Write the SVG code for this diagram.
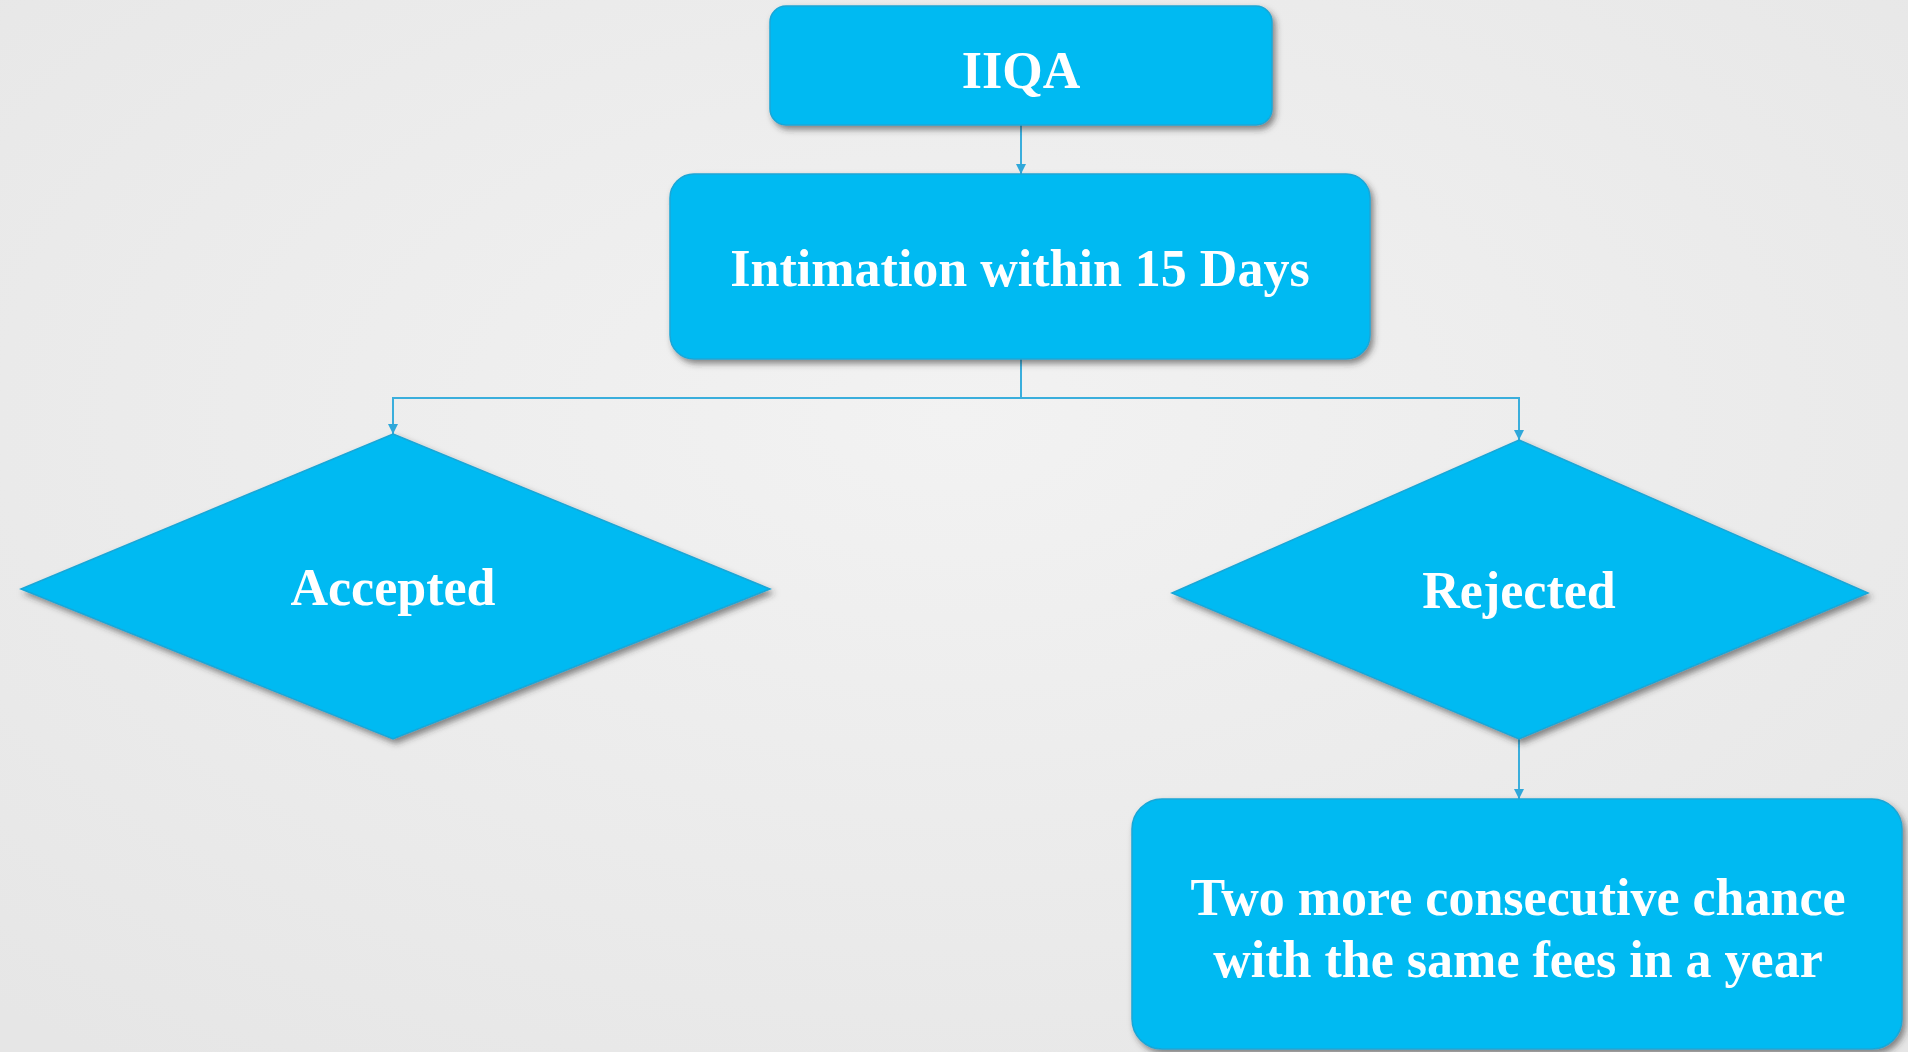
<svg xmlns="http://www.w3.org/2000/svg" width="1908" height="1052" viewBox="0 0 1908 1052">
<defs>
<filter id="sh" x="-10%" y="-10%" width="125%" height="130%">
<feDropShadow dx="3" dy="4" stdDeviation="3" flood-color="#333" flood-opacity="0.55"/>
</filter>
<marker id="ar" viewBox="0 0 10 10" refX="10" refY="5" markerWidth="10" markerHeight="10" markerUnits="userSpaceOnUse" orient="auto">
<path d="M0,0 L10,5 L0,10 z" fill="#2FA8DA"/>
</marker>
<radialGradient id="bg" cx="50%" cy="40%" r="75%">
<stop offset="0" stop-color="#F2F2F2"/>
<stop offset="1" stop-color="#E6E6E6"/>
</radialGradient>
</defs>
<style>
.node{fill:#00BAF2;stroke:#1AA6D6;stroke-width:1.5;filter:url(#sh)}
.lbl{font-family:"Liberation Serif","Times New Roman",serif;font-weight:bold;font-size:52px;fill:#FFFFFF;text-anchor:middle}
.con{fill:none;stroke:#3AAEDC;stroke-width:2}
</style>
<rect x="0" y="0" width="1908" height="1052" fill="url(#bg)"/>
<g id="connectors">
<path class="con" d="M1021,125 L1021,174" marker-end="url(#ar)"/>
<path class="con" d="M1021,359 L1021,398 L393,398 L393,434" marker-end="url(#ar)"/>
<path class="con" d="M1021,398 L1519,398 L1519,440" marker-end="url(#ar)"/>
<path class="con" d="M1519,739 L1519,799" marker-end="url(#ar)"/>
</g>
<g id="iiqa">
<rect class="node" x="770" y="6" width="502" height="119" rx="16"/>
<text class="lbl" x="1021" y="88">IIQA</text>
</g>
<g id="intimation">
<rect class="node" x="670" y="174" width="700" height="185" rx="24"/>
<text class="lbl" x="1020" y="286">Intimation within 15 Days</text>
</g>
<g id="accepted">
<polygon class="node" points="393,434 770,589 393,739 21,589"/>
<text class="lbl" x="393" y="605">Accepted</text>
</g>
<g id="rejected">
<polygon class="node" points="1519,440 1868,593 1519,739 1172,593"/>
<text class="lbl" x="1519" y="608">Rejected</text>
</g>
<g id="twomore">
<rect class="node" x="1132" y="799" width="770" height="250" rx="30"/>
<text class="lbl" x="1518" y="915">Two more consecutive chance</text>
<text class="lbl" x="1518" y="977">with the same fees in a year</text>
</g>
</svg>
